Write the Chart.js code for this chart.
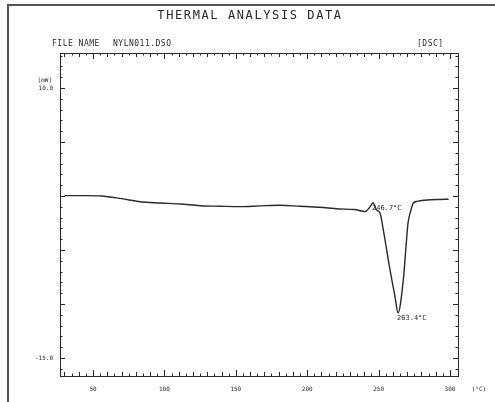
<!DOCTYPE html>
<html>
<head>
<meta charset="utf-8">
<script src="https://cdn.jsdelivr.net/npm/chart.js@4.4.1/dist/chart.umd.min.js"></script>
<style>
  html, body { margin: 0; padding: 0; background: #fff; }
  #wrap { width: 495px; height: 402px; }
</style>
</head>
<body>
<div id="wrap"><canvas id="dsc" width="495" height="402"></canvas></div>
<script>
// DSC trace: temperature (C) vs heat flow (mW)
const temps = [30, 45, 56, 70, 83, 97, 111, 125, 139, 153, 167, 181, 195, 209, 222, 233,
  240.5, 244, 246.1, 248.5, 251, 253.3, 258, 261.5, 263.6, 267.3, 269.2, 270.6, 272.7,
  274.3, 277, 284, 292, 299];
const heatFlow = [0.03, 0.03, 0.0, -0.25, -0.53, -0.65, -0.74, -0.9, -0.95, -0.99, -0.92,
  -0.86, -0.95, -1.05, -1.2, -1.25, -1.45, -1.0, -0.62, -1.3, -1.57, -3.15, -6.85, -9.32,
  -10.83, -7.78, -4.69, -2.5, -1.3, -0.65, -0.5, -0.37, -0.32, -0.3];
const xTickLabels = [50, 100, 150, 200, 250, 300];
const yTickLabels = [10, -15];
const peakNotes = [{ t: 246.1, text: '246.7°C' }, { t: 263.6, text: '263.4°C' }];

const ink = '#2a2a2a';
const mono = '"DejaVu Sans Mono", "Liberation Mono", monospace';

const points = temps.map((t, i) => ({ x: t, y: heatFlow[i] }));

// frame, ticks and all the plotter text
const plotterFrame = {
  id: 'plotterFrame',
  beforeDraw(chart) {
    const c = chart.ctx;
    c.save();
    c.fillStyle = '#fff';
    c.fillRect(0, 0, chart.width, chart.height);
    // scanned page edges
    c.strokeStyle = '#555';
    c.lineWidth = 2;
    c.beginPath();
    c.moveTo(8, 402); c.lineTo(8, 5); c.lineTo(495, 5);
    c.stroke();
    c.restore();
  },
  afterDraw(chart) {
    const c = chart.ctx;
    const a = chart.chartArea;
    const xs = chart.scales.x, ys = chart.scales.y;
    c.save();
    c.strokeStyle = ink;
    c.lineWidth = 1;
    c.strokeRect(a.left + 0.5, a.top + 0.5, a.right - a.left, a.bottom - a.top);

    // x ticks, pointing inward top and bottom
    c.beginPath();
    for (let t = 30; t <= 300; t += 5) {
      const px = Math.round(xs.getPixelForValue(t)) + 0.5;
      const len = t % 50 === 0 ? 6 : (t % 10 === 0 ? 4 : 2.5);
      c.moveTo(px, a.bottom); c.lineTo(px, a.bottom - len);
      c.moveTo(px, a.top); c.lineTo(px, a.top + len);
    }
    // y ticks, left and right
    for (let v = -16; v <= 13; v += 1) {
      const py = Math.round(ys.getPixelForValue(v)) + 0.5;
      const len = v % 5 === 0 ? 5 : 2.5;
      c.moveTo(a.left, py); c.lineTo(a.left + len, py);
      c.moveTo(a.right, py); c.lineTo(a.right - len, py);
    }
    c.stroke();

    c.fillStyle = ink;
    // title block
    c.font = '12px ' + mono;
    c.letterSpacing = '1.6px';
    c.textAlign = 'center';
    c.textBaseline = 'middle';
    c.fillText('THERMAL ANALYSIS DATA', 250, 16);
    c.font = '8px ' + mono;
    c.letterSpacing = '0.5px';
    c.textAlign = 'left';
    c.fillText('FILE NAME', 52, 44);
    c.fillText('NYLN011.DSO', 113, 44);
    c.fillText('[DSC]', 417, 44);

    // axis labels
    c.font = '6px ' + mono;
    c.letterSpacing = '0px';
    c.textAlign = 'center';
    xTickLabels.forEach(t => c.fillText(String(t), xs.getPixelForValue(t), 389));
    c.fillText('(°C)', 479, 389);
    c.textAlign = 'right';
    yTickLabels.forEach(v => c.fillText(v.toFixed(1), 53, ys.getPixelForValue(v)));
    c.fillText('[mW]', 52, ys.getPixelForValue(10) - 8);

    // peak annotations
    c.font = '7px ' + mono;
    c.textAlign = 'left';
    c.textBaseline = 'top';
    peakNotes.forEach(n => {
      const i = temps.indexOf(n.t);
      const px = xs.getPixelForValue(n.t);
      const py = ys.getPixelForValue(heatFlow[i]);
      c.fillText(n.text, px - 1, py + 2);
    });
    c.restore();
  }
};

new Chart(document.getElementById('dsc'), {
  type: 'line',
  data: {
    datasets: [{
      label: 'DSC',
      data: points,
      borderColor: ink,
      borderWidth: 1.4,
      pointRadius: 0,
      cubicInterpolationMode: 'monotone',
      fill: false
    }]
  },
  options: {
    responsive: false,
    animation: false,
    devicePixelRatio: 1,
    layout: { padding: { left: 60, right: 37, top: 53, bottom: 26 } },
    plugins: { legend: { display: false }, tooltip: { enabled: false } },
    scales: {
      x: { type: 'linear', display: false, min: 26.9, max: 305.6 },
      y: { type: 'linear', display: false, min: -16.67, max: 13.24 }
    }
  },
  plugins: [plotterFrame]
});
</script>
</body>
</html>
